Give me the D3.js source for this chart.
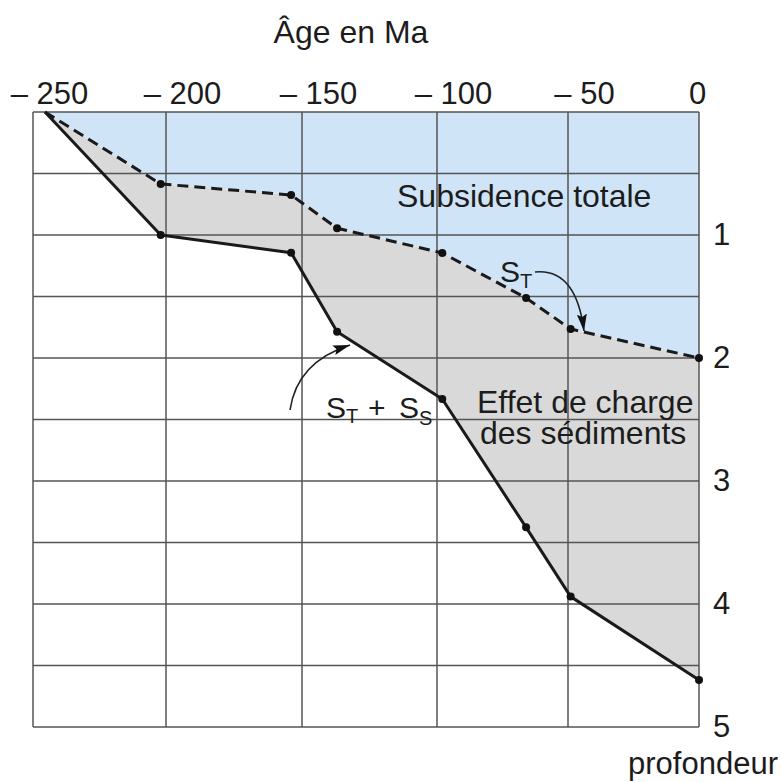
<!DOCTYPE html>
<html>
<head>
<meta charset="utf-8">
<script src="https://cdn.jsdelivr.net/npm/d3@7"></script>
<style>
  html, body { margin: 0; padding: 0; background: #ffffff; }
  svg { display: block; }
  text { font-family: "Liberation Sans", Arial, Helvetica, sans-serif; fill: #1c1c1c; }
</style>
</head>
<body>
<svg id="chart" width="782" height="782"></svg>
<script>
// ---- data ----
const ages = [-245.5, -202, -154, -137, -98, -66, -49, 0];          // Ma
const subsTotale = [0, 0.585, 0.675, 0.945, 1.146, 1.512, 1.764, 2.0]; // S_T (km)
const subsTotaleSed = [0, 1.0, 1.144, 1.786, 2.333, 3.377, 3.94, 4.618]; // S_T + S_S (km)
const xTicks = [-250, -200, -150, -100, -50, 0];
const xTickLabels = ["\u2013 250", "\u2013 200", "\u2013 150", "\u2013 100", "\u2013 50", "0"];
const yTicks = [1, 2, 3, 4, 5];
const yGrid = [0, 0.5, 1, 1.5, 2, 2.5, 3, 3.5, 4, 4.5, 5];

const svg = d3.select("#chart");

const x = d3.scaleLinear().domain(xTicks).range([33, 166, 302, 437, 568, 699]);
const y = d3.scaleLinear().domain([0, 5]).range([112, 727]);

const pts = ages.map((a, i) => ({ a, t: subsTotale[i], s: subsTotaleSed[i] }));

// defs: arrowhead
const defs = svg.append("defs");
defs.append("marker")
  .attr("id", "arrow")
  .attr("viewBox", "0 -6 18 12")
  .attr("refX", 17).attr("refY", 0)
  .attr("markerWidth", 18).attr("markerHeight", 12)
  .attr("markerUnits", "userSpaceOnUse")
  .attr("orient", "auto")
  .append("path").attr("d", "M0,-5L17,0L0,5L3,0Z").attr("fill", "#111");

// fills
svg.append("path")
  .datum(pts)
  .attr("fill", "#cfe4f6")
  .attr("d", d3.area().x(d => x(d.a)).y0(y(0)).y1(d => y(d.t)));

svg.append("path")
  .datum(pts)
  .attr("fill", "#d9d9d9")
  .attr("d", d3.area().x(d => x(d.a)).y0(d => y(d.t)).y1(d => y(d.s)));

// grid
const grid = svg.append("g").attr("stroke", "#555").attr("stroke-width", 1.5);
grid.selectAll("line.h").data(yGrid).join("line")
  .attr("class", "h")
  .attr("x1", x(-250)).attr("x2", x(0))
  .attr("y1", d => y(d)).attr("y2", d => y(d));
grid.selectAll("line.v").data(xTicks).join("line")
  .attr("class", "v")
  .attr("x1", d => x(d)).attr("x2", d => x(d))
  .attr("y1", y(0)).attr("y2", y(5));

// axes (labels only)
const xAxis = svg.append("g")
  .attr("transform", `translate(0,${y(0)})`)
  .call(d3.axisTop(x).tickValues(xTicks).tickFormat((d, i) => xTickLabels[i]).tickSize(0).tickPadding(8));
xAxis.select(".domain").remove();
xAxis.selectAll("text")
  .attr("font-size", 31)
  .attr("font-family", null)
  .attr("dx", d => d === 0 ? -2 : 16);
xAxis.attr("font-size", null).attr("font-family", null);

const yAxis = svg.append("g")
  .attr("transform", `translate(${x(0)},0)`)
  .call(d3.axisRight(y).tickValues(yTicks).tickFormat(d3.format("d")).tickSize(0).tickPadding(14));
yAxis.select(".domain").remove();
yAxis.selectAll("text").attr("font-size", 31).attr("dy", "0.3em");
yAxis.attr("font-size", null).attr("font-family", null);

// lines
svg.append("path")
  .datum(pts)
  .attr("fill", "none").attr("stroke", "#1a1a1a").attr("stroke-width", 3)
  .attr("stroke-dasharray", "11,6")
  .attr("d", d3.line().x(d => x(d.a)).y(d => y(d.t)));

svg.append("path")
  .datum(pts)
  .attr("fill", "none").attr("stroke", "#1a1a1a").attr("stroke-width", 3)
  .attr("stroke-linejoin", "round")
  .attr("d", d3.line().x(d => x(d.a)).y(d => y(d.s)));

// dots
const dotPts = pts.slice(1);
svg.append("g").selectAll("circle.t").data(dotPts).join("circle")
  .attr("cx", d => x(d.a)).attr("cy", d => y(d.t)).attr("r", 4).attr("fill", "#111");
svg.append("g").selectAll("circle.s").data(dotPts).join("circle")
  .attr("cx", d => x(d.a)).attr("cy", d => y(d.s)).attr("r", 4).attr("fill", "#111");

// arrows
const arrows = [
  { p0: [535, 272], c: [576, 268], p1: [584, 331] },
  { p0: [290, 410], c: [297, 362], p1: [350, 345] }
];
svg.append("g").selectAll("path").data(arrows).join("path")
  .attr("fill", "none").attr("stroke", "#222").attr("stroke-width", 1.6)
  .attr("marker-end", "url(#arrow)")
  .attr("d", d => {
    const p = d3.path();
    p.moveTo(d.p0[0], d.p0[1]);
    p.quadraticCurveTo(d.c[0], d.c[1], d.p1[0], d.p1[1]);
    return p.toString();
  });

// texts
svg.append("text").attr("x", 351).attr("y", 43).attr("text-anchor", "middle")
  .attr("font-size", 32).text("Âge en Ma");
svg.append("text").attr("x", 778).attr("y", 774).attr("text-anchor", "end")
  .attr("font-size", 31).text("profondeur");
svg.append("text").attr("x", 397).attr("y", 207)
  .attr("font-size", 32).text("Subsidence totale");
svg.append("text").attr("x", 477).attr("y", 413)
  .attr("font-size", 32).text("Effet de charge");
svg.append("text").attr("x", 480).attr("y", 444)
  .attr("font-size", 32).text("des sédiments");

const st = svg.append("text").attr("x", 500).attr("y", 282).attr("font-size", 30);
st.append("tspan").text("S");
st.append("tspan").attr("font-size", 20).attr("dy", 6).text("T");

const sts = svg.append("text").attr("x", 326).attr("y", 418).attr("font-size", 30);
sts.append("tspan").text("S");
sts.append("tspan").attr("font-size", 20).attr("dy", 5).text("T");
sts.append("tspan").attr("dy", -5).attr("x", 368).text("+");
sts.append("tspan").attr("x", 399).text("S");
sts.append("tspan").attr("font-size", 20).attr("dy", 7).text("S");
</script>
</body>
</html>
